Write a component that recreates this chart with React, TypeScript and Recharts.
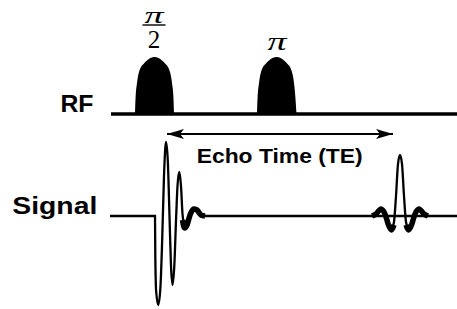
import React from "react";
import { ComposedChart, Line, Area, Scatter, XAxis, YAxis, ReferenceDot } from "recharts";

// time axis runs left to right, RF amplitude is measured up from the RF line,
// signal amplitude up from the signal line

// pi/2 excitation pulse
const pulse90 = [
  { t: 135, a: 0 }, { t: 135.5, a: 15 }, { t: 137, a: 31 }, { t: 138.5, a: 40 },
  { t: 140.5, a: 46 }, { t: 143.5, a: 50 }, { t: 147, a: 53.5 }, { t: 150.5, a: 56 },
  { t: 154.5, a: 57 },
  { t: 158.5, a: 56 }, { t: 162, a: 53.5 }, { t: 165.5, a: 50 }, { t: 168.5, a: 46 },
  { t: 170.5, a: 40 }, { t: 172, a: 31 }, { t: 173.5, a: 15 }, { t: 174, a: 0 },
];

// pi refocusing pulse
const pulse180 = [
  { t: 257, a: 0 }, { t: 257.5, a: 15 }, { t: 259, a: 31 }, { t: 260.5, a: 40 },
  { t: 262.5, a: 46 }, { t: 265.5, a: 50 }, { t: 269, a: 53.5 }, { t: 272.5, a: 56 },
  { t: 276.7, a: 57 },
  { t: 280.5, a: 56 }, { t: 284, a: 53.5 }, { t: 287.5, a: 50 }, { t: 290.5, a: 46 },
  { t: 292.5, a: 40 }, { t: 294, a: 31 }, { t: 295.5, a: 15 }, { t: 296.5, a: 0 },
];

const rfBaseline = [{ t: 111, a: 0 }, { t: 457, a: 0 }];

// echo time arrow (tips)
const teArrow = [{ t: 167, a: -20 }, { t: 393, a: -20 }];

// free induction decay
const fid = [
  { t: 110, s: 0 }, { t: 155, s: 0 }, { t: 155.3, s: -40 }, { t: 156.2, s: -76 },
  { t: 158.3, s: -89 }, { t: 160.5, s: -70 }, { t: 162.3, s: -20 }, { t: 164, s: 40 },
  { t: 166, s: 74 }, { t: 167.8, s: 55 }, { t: 169.5, s: 0 }, { t: 171, s: -50 },
  { t: 172.5, s: -69 }, { t: 174.3, s: -50 }, { t: 176, s: -5 }, { t: 177.5, s: 30 },
  { t: 179.3, s: 44 }, { t: 181, s: 30 }, { t: 182.5, s: 2 }, { t: 184, s: -8 },
];
const fidTail = [
  { t: 182.5, s: -4 }, { t: 184.5, s: -12 }, { t: 187, s: -9 }, { t: 190, s: 1 },
  { t: 193.5, s: 7 }, { t: 197, s: 6 }, { t: 201, s: 1 }, { t: 205, s: 0 },
];

const signalBaseline = [{ t: 200, s: 0 }, { t: 457, s: 0 }];

// spin echo
const echoLeft = [
  { t: 372, s: 0 }, { t: 376, s: 2 }, { t: 381, s: 7 }, { t: 385, s: 2 },
  { t: 388.5, s: -9 }, { t: 391.5, s: -14 }, { t: 394, s: -9 },
];
const echoPeak = [
  { t: 391.5, s: -14 }, { t: 394, s: -6 }, { t: 396, s: 20 }, { t: 398, s: 52 },
  { t: 400, s: 61 }, { t: 402, s: 52 }, { t: 404, s: 20 }, { t: 406, s: -6 },
  { t: 408.5, s: -14 },
];
const echoRight = [
  { t: 406, s: -9 }, { t: 408.5, s: -14 }, { t: 411.5, s: -9 }, { t: 415, s: 2 },
  { t: 419, s: 7 }, { t: 424, s: 2 }, { t: 428, s: 0 },
];

const sans = "'Liberation Sans', Arial, sans-serif";
const serif = "'Liberation Serif', 'Times New Roman', serif";

const ArrowHead = (props: any) => {
  const { cx, cy, index } = props;
  const d = index === 0 ? -1 : 1;
  const back = cx - d * 17;
  const notch = cx - d * 13;
  return <path d={`M${cx},${cy} L${back},${cy - 5} L${notch},${cy} L${back},${cy + 5} Z`} fill="#000" />;
};

// bold sans label, stretched to the width it has in the figure
const textAt = (txt: string, size: number, anchor: string, len: number) => (p: any) => (
  <text x={p.viewBox.x} y={p.viewBox.y} textAnchor={anchor} fontFamily={sans}
    fontWeight="bold" fontSize={size} fill="#000" textLength={len}
    lengthAdjust="spacingAndGlyphs">{txt}</text>
);

const halfPi = (p: any) => {
  const { x, y } = p.viewBox;
  return (
    <g fill="#000" fontFamily={serif}>
      <text x={x} y={y - 2.5} textAnchor="middle" fontStyle="italic" fontSize={24}
        textLength={19} lengthAdjust="spacingAndGlyphs">π</text>
      <line x1={x - 11.5} x2={x + 11.5} y1={y} y2={y} stroke="#000" strokeWidth={1.4} />
      <text x={x} y={y + 23} textAnchor="middle" fontSize={25}>2</text>
    </g>
  );
};

const piLabel = (p: any) => (
  <text x={p.viewBox.x} y={p.viewBox.y} textAnchor="middle" fontFamily={serif}
    fontStyle="italic" fontSize={26} fill="#000" textLength={19}
    lengthAdjust="spacingAndGlyphs">π</text>
);

export default function App() {
  return (
    <div style={{ position: "absolute", left: 0, top: 0, background: "#fff" }}>
      <ComposedChart width={457} height={309} margin={{ top: 0, right: 0, bottom: 0, left: 0 }}>
        <XAxis type="number" dataKey="t" domain={[0, 457]} hide allowDataOverflow />
        <YAxis yAxisId="rf" type="number" domain={[-195, 114]} hide allowDataOverflow />
        <YAxis yAxisId="sig" type="number" domain={[-93, 216]} hide allowDataOverflow />

        <Area yAxisId="rf" data={pulse90} dataKey="a" type="monotone" baseValue={0}
          stroke="none" fill="#000" fillOpacity={1} isAnimationActive={false} />
        <Area yAxisId="rf" data={pulse180} dataKey="a" type="monotone" baseValue={0}
          stroke="none" fill="#000" fillOpacity={1} isAnimationActive={false} />
        <Line yAxisId="rf" data={rfBaseline} dataKey="a" stroke="#000" strokeWidth={3.3}
          dot={false} activeDot={false} isAnimationActive={false} />

        <Line yAxisId="rf" data={teArrow} dataKey="a" stroke="#000" strokeWidth={2}
          dot={false} activeDot={false} isAnimationActive={false} />
        <Scatter yAxisId="rf" data={teArrow} dataKey="a" shape={ArrowHead} isAnimationActive={false} />

        <Line yAxisId="sig" data={signalBaseline} dataKey="s" stroke="#000" strokeWidth={2.3}
          dot={false} activeDot={false} isAnimationActive={false} />
        <Line yAxisId="sig" data={fid} dataKey="s" type="monotone" stroke="#000" strokeWidth={2.3}
          dot={false} activeDot={false} isAnimationActive={false} />
        <Line yAxisId="sig" data={fidTail} dataKey="s" type="monotone" stroke="#000" strokeWidth={5.5}
          dot={false} activeDot={false} isAnimationActive={false} />
        <Line yAxisId="sig" data={echoLeft} dataKey="s" type="monotone" stroke="#000" strokeWidth={5.5}
          dot={false} activeDot={false} isAnimationActive={false} />
        <Line yAxisId="sig" data={echoRight} dataKey="s" type="monotone" stroke="#000" strokeWidth={5.5}
          dot={false} activeDot={false} isAnimationActive={false} />
        <Line yAxisId="sig" data={echoPeak} dataKey="s" type="monotone" stroke="#000" strokeWidth={2.3}
          dot={false} activeDot={false} isAnimationActive={false} />

        <ReferenceDot yAxisId="rf" x={93.5} y={2.5} r={0} stroke="none" label={textAt("RF", 23, "end", 33)} />
        <ReferenceDot yAxisId="sig" x={97.3} y={1.7} r={0} stroke="none" label={textAt("Signal", 23, "end", 85)} />
        <ReferenceDot yAxisId="rf" x={279.7} y={-49.3} r={0} stroke="none" label={textAt("Echo Time (TE)", 21, "middle", 166)} />
        <ReferenceDot yAxisId="rf" x={154} y={89} r={0} stroke="none" label={halfPi} />
        <ReferenceDot yAxisId="rf" x={277} y={64} r={0} stroke="none" label={piLabel} />
      </ComposedChart>
    </div>
  );
}
